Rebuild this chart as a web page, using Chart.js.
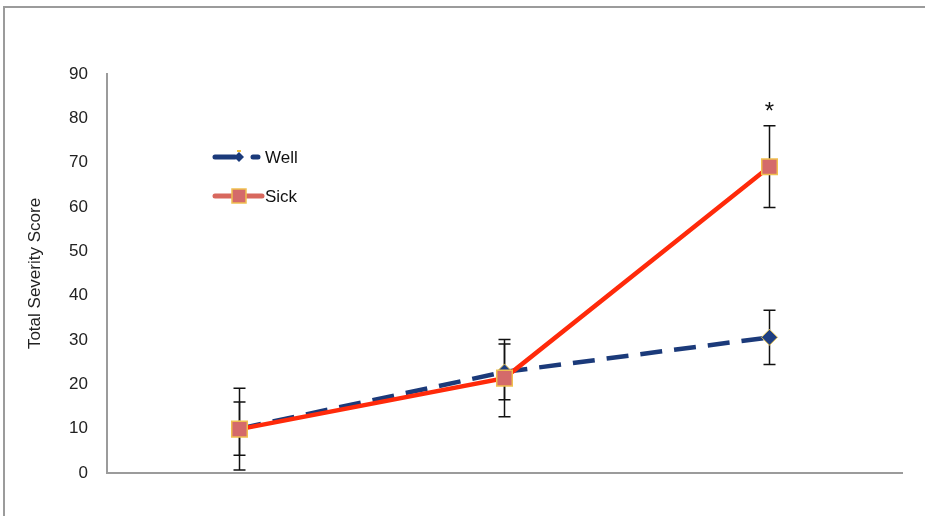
<!DOCTYPE html>
<html lang="en">
<head>
    <meta charset="UTF-8">
    <title>Total Severity Score</title>
    <script src="https://cdn.jsdelivr.net/npm/chart.js"></script>
    <style>
        html, body { margin: 0; padding: 0; background: #fff; overflow: hidden; }
        #frame { position: absolute; left: 3px; top: 6px; width: 940px; height: 530px;
                 border-top: 2px solid #9b9b9b; border-left: 2px solid #9b9b9b; }
        #chart { position: absolute; left: 0; top: 0; }
    </style>
</head>
<body>
    <div id="frame"></div>
    <canvas id="chart" width="925" height="516"></canvas>

    <script>
        const categories = ['1', '2', '3'];
        const wellValues = [10.0, 22.8, 30.6];
        const wellErrors = [6.0, 6.3, 6.1];
        const sickValues = [9.9, 21.4, 69.1];
        const sickErrors = [9.2, 8.7, 9.2];
        const yTicks = [0, 10, 20, 30, 40, 50, 60, 70, 80, 90];
        const marks = ['', '', '*'];

        const errorBars = {
            id: 'errorBars',
            beforeDatasetsDraw(chart) {
                const ctx = chart.ctx;
                const y = chart.scales.y;
                ctx.save();
                ctx.strokeStyle = '#111';
                ctx.lineWidth = 1.5;
                chart.data.datasets.forEach((ds, i) => {
                    const meta = chart.getDatasetMeta(i);
                    meta.data.forEach((pt, j) => {
                        const top = y.getPixelForValue(ds.data[j] + ds.errors[j]);
                        const bot = y.getPixelForValue(ds.data[j] - ds.errors[j]);
                        ctx.beginPath();
                        ctx.moveTo(pt.x, top); ctx.lineTo(pt.x, bot);
                        ctx.moveTo(pt.x - 6, top); ctx.lineTo(pt.x + 6, top);
                        ctx.moveTo(pt.x - 6, bot); ctx.lineTo(pt.x + 6, bot);
                        ctx.stroke();
                    });
                });
                ctx.restore();
            },
            afterDatasetsDraw(chart) {
                // asterisk above the highest error bar
                const ctx = chart.ctx;
                const y = chart.scales.y;
                const x = chart.scales.x;
                ctx.save();
                ctx.fillStyle = '#111';
                ctx.font = '24px "Liberation Sans", Arial, sans-serif';
                ctx.textAlign = 'center';
                ctx.textBaseline = 'middle';
                marks.forEach((m, j) => {
                    if (!m) return;
                    const top = Math.max(wellValues[j] + wellErrors[j], sickValues[j] + sickErrors[j]);
                    ctx.fillText(m, x.getPixelForValue(j), y.getPixelForValue(top) - 13);
                });
                ctx.restore();
            }
        };

        const innerLegend = {
            id: 'innerLegend',
            afterDraw(chart) {
                const ctx = chart.ctx;
                const x0 = 215, x1 = 262, rows = [157, 196];
                ctx.save();
                ctx.font = '17px "Liberation Sans", Arial, sans-serif';
                ctx.textBaseline = 'middle';
                // Well
                ctx.strokeStyle = '#1b3a7a';
                ctx.lineWidth = 5;
                ctx.lineCap = 'round';
                ctx.beginPath();
                ctx.moveTo(x0, rows[0]); ctx.lineTo(x0 + 20, rows[0]);
                ctx.moveTo(x0 + 38, rows[0]); ctx.lineTo(x1 - 4, rows[0]);
                ctx.stroke();
                ctx.fillStyle = '#1b3a7a';
                ctx.beginPath();
                ctx.moveTo(239, rows[0] - 5); ctx.lineTo(244, rows[0]);
                ctx.lineTo(239, rows[0] + 5); ctx.lineTo(234, rows[0]);
                ctx.closePath(); ctx.fill();
                ctx.fillStyle = '#f0c040';
                ctx.fillRect(237, rows[0] - 7, 4, 2);
                // Sick
                ctx.strokeStyle = '#d8685e';
                ctx.beginPath();
                ctx.moveTo(x0, rows[1]); ctx.lineTo(x1, rows[1]);
                ctx.stroke();
                ctx.fillStyle = '#d46a6a';
                ctx.fillRect(232, rows[1] - 7, 14, 14);
                ctx.strokeStyle = '#f0c050';
                ctx.lineWidth = 1.5;
                ctx.strokeRect(232, rows[1] - 7, 14, 14);
                ctx.fillStyle = '#111';
                ctx.fillText('Well', x1 + 3, rows[0] + 1);
                ctx.fillText('Sick', x1 + 3, rows[1] + 1);
                ctx.restore();
            }
        };

        new Chart(document.getElementById('chart'), {
            type: 'line',
            data: {
                labels: categories,
                datasets: [{
                    label: 'Well',
                    data: wellValues,
                    errors: wellErrors,
                    borderColor: '#1b3a7a',
                    borderWidth: 4.5,
                    borderDash: [22, 12],
                    pointStyle: 'rectRot',
                    pointRadius: 8,
                    pointBackgroundColor: '#1f3f82',
                    pointBorderColor: '#e8c65a',
                    pointBorderWidth: 1,
                    tension: 0,
                    order: 1
                }, {
                    label: 'Sick',
                    data: sickValues,
                    errors: sickErrors,
                    borderColor: '#ff2a0a',
                    borderWidth: 4.5,
                    pointStyle: 'rect',
                    pointRadius: 11,
                    pointBackgroundColor: '#d46a6a',
                    pointBorderColor: '#f0c050',
                    pointBorderWidth: 1.5,
                    tension: 0,
                    order: 0
                }]
            },
            options: {
                responsive: false,
                animation: false,
                layout: { padding: { left: 25, top: 74, right: 23, bottom: 35 } },
                plugins: {
                    legend: { display: false },
                    tooltip: { enabled: false }
                },
                scales: {
                    x: {
                        offset: true,
                        grid: { display: false, offset: true },
                        border: { color: '#9b9b9b', width: 2 },
                        ticks: { display: false }
                    },
                    y: {
                        min: 0,
                        max: 90,
                        afterBuildTicks: (axis) => { axis.ticks = yTicks.map(v => ({ value: v })); },
                        afterFit: (axis) => { axis.width = 82; },
                        grid: { display: false },
                        border: { color: '#9b9b9b', width: 2 },
                        ticks: {
                            color: '#222',
                            padding: 11,
                            font: { family: '"Liberation Sans", Arial, sans-serif', size: 17 }
                        },
                        title: {
                            display: true,
                            text: 'Total Severity Score',
                            color: '#222',
                            padding: { top: 0, bottom: 4 },
                            font: { family: '"Liberation Sans", Arial, sans-serif', size: 17 }
                        }
                    }
                }
            },
            plugins: [errorBars, innerLegend]
        });
    </script>
</body>
</html>
